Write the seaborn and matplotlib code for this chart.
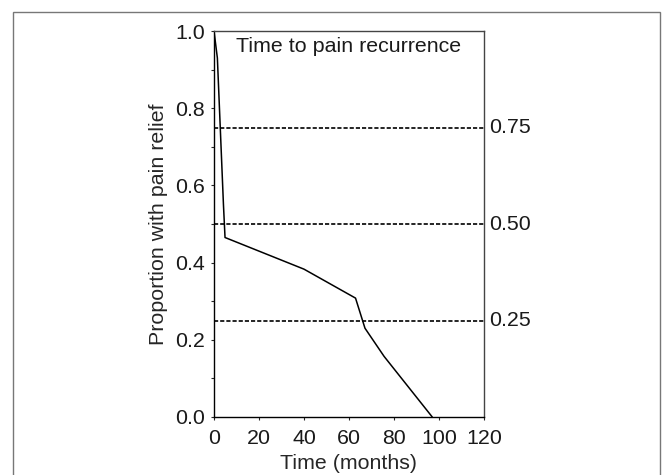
import numpy as np
import pandas as pd
import matplotlib
matplotlib.use("Agg")
import matplotlib.pyplot as plt
import matplotlib.patches as mpatches
import matplotlib.transforms as mtransforms
import seaborn as sns

# Data
time_months = [0, 1.5, 4.2, 4.9, 40.0, 62.9, 67.1, 75.6, 97.0]
proportion = [1.0, 0.93, 0.55, 0.465, 0.383, 0.308, 0.230, 0.157, 0.0]
quartiles = [0.75, 0.50, 0.25]
quartile_labels = ["0.75", "0.50", "0.25"]
x_ticks = [0, 20, 40, 60, 80, 100, 120]
y_ticks = [0.0, 0.2, 0.4, 0.6, 0.8, 1.0]
y_minor = [0.1, 0.3, 0.5, 0.7, 0.9]

FS = 15.4

sns.set_style("ticks")
plt.rcParams['font.family'] = ['Liberation Sans', 'DejaVu Sans']
plt.rcParams['font.size'] = FS
plt.rcParams['text.color'] = '#1a1a1a'
plt.rcParams['xtick.labelcolor'] = '#1a1a1a'
plt.rcParams['ytick.labelcolor'] = '#1a1a1a'

fig = plt.figure(figsize=(6.62, 4.75), dpi=100)
ax = fig.add_axes([214/662, 1 - 417/475, (484 - 214)/662, (417 - 31)/475])

df = pd.DataFrame({"Time": time_months, "Proportion": proportion})
sns.lineplot(data=df, x="Time", y="Proportion", ax=ax, color="black",
             linewidth=1.1, sort=False)

trans = mtransforms.blended_transform_factory(ax.transAxes, ax.transData)
for q, lab in zip(quartiles, quartile_labels):
    ax.axhline(q, color="black", linewidth=1.2, linestyle=(0, (2.5, 1.2)))
    ax.text(1.018, q, lab, transform=trans, ha="left", va="center", fontsize=FS)

ax.set_xlim(0, 120)
ax.set_ylim(0, 1.0)
ax.set_xticks(x_ticks)
ax.set_yticks(y_ticks)
ax.set_yticks(y_minor, minor=True)
ax.set_yticklabels([f"{v:.1f}" for v in y_ticks])
ax.tick_params(axis="both", which="major", length=2.5, width=0.8, labelsize=FS)
ax.tick_params(axis="x", which="major", pad=5.8)
ax.tick_params(axis="y", which="major", pad=4)
ax.tick_params(axis="y", which="minor", length=2, width=0.8)

ax.set_xlabel("Time (months)", fontsize=FS, labelpad=5)
ax.set_ylabel("Proportion with pain relief", fontsize=FS, labelpad=5)

for s in ["left", "bottom"]:
    ax.spines[s].set_color("black")
    ax.spines[s].set_linewidth(1.0)
for s in ["top", "right"]:
    ax.spines[s].set_visible(True)
    ax.spines[s].set_color("#444444")
    ax.spines[s].set_linewidth(1.0)

ax.text(0.5, 0.985, "Time to pain recurrence", transform=ax.transAxes,
        ha="center", va="top", fontsize=FS)

# Outer frame around the figure
rect = mpatches.Rectangle((13/662, -0.1), (660 - 13)/662, 1.1 - 12/475,
                          transform=fig.transFigure, fill=False,
                          edgecolor="#777777", linewidth=1.0)
fig.patches.append(rect)

fig.savefig("out.png", dpi=100)
